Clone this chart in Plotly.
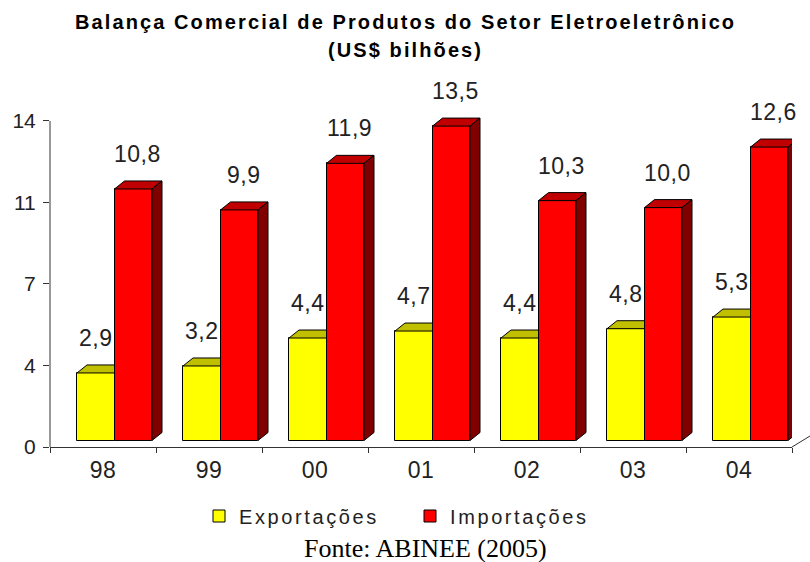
import plotly.graph_objects as go

# ---------------- data ----------------
years = ["98", "99", "00", "01", "02", "03", "04"]
exportacoes = [2.9, 3.2, 4.4, 4.7, 4.4, 4.8, 5.3]
importacoes = [10.8, 9.9, 11.9, 13.5, 10.3, 10.0, 12.6]
series_names = ["Exportações", "Importações"]
ytick_vals = [0, 3.5, 7, 10.5, 14]
ytick_text = ["0", "4", "7", "11", "14"]
title_lines = ["Balança Comercial de Produtos do Setor Eletroeletrônico", "(US$ bilhões)"]
source_text = "Fonte: ABINEE (2005)"

# ---------------- layout geometry ----------------
W, H = 810, 562
ML, MR, MT, MB = 50, 18, 110, 115
plot_w = W - ML - MR
plot_h = H - MT - MB
ncat = len(years)
x_unit = plot_w / ncat          # px per category
y_unit = 23.29                  # px per value unit
ymax = plot_h / y_unit

dx = 10 / x_unit                # 3D depth (x)
dy = 8 / y_unit                 # 3D depth (y)
b0 = 6.5 / y_unit               # bars sit slightly behind the floor front edge
bw = 37.5 / x_unit              # bar width
left_off = 27 / x_unit          # offset of first bar from category start

front_cols = ["#FFFF00", "#FF0000"]
top_cols = ["#C0C000", "#C00000"]
side_cols = ["#808000", "#800000"]
TXT = "#222222"
FONT = "Liberation Sans, Arial, sans-serif"


def ls(text, px):
    return f'<span style="letter-spacing:{px}px">{text}</span>'


def py_to_paper(p):
    return (H - MB - p) / plot_h


def px_to_paper(p):
    return (p - ML) / plot_w


fig = go.Figure()

series = [exportacoes, importacoes]
lefts = []
for s in range(2):
    xl = [i - 0.5 + left_off + s * bw for i in range(ncat)]
    lefts.append(xl)

# front faces
for s, vals in enumerate(series):
    fig.add_trace(go.Bar(
        x=[xl + bw / 2 for xl in lefts[s]], y=vals, base=[b0] * ncat, width=bw,
        name=ls(series_names[s], 2.6),
        marker=dict(color=front_cols[s], line=dict(color="black", width=1)),
        hoverinfo="skip",
    ))

# top faces and sides
for s, vals in enumerate(series):
    tx, ty, sx, sy = [], [], [], []
    for i, v in enumerate(vals):
        xl = lefts[s][i]
        xr = xl + bw
        top = b0 + v
        if s == 0:
            # right part hidden behind the neighbouring (taller) bar
            tx += [xl, xl + dx, xr, xr, xl, None]
        else:
            tx += [xl, xl + dx, xr + dx, xr, xl, None]
        ty += [top, top + dy, top + dy, top, top, None]
        if s == 1:
            sx += [xr, xr + dx, xr + dx, xr, xr, None]
            sy += [b0, b0 + dy, top + dy, top, b0, None]
    fig.add_trace(go.Scatter(x=tx, y=ty, mode="lines", fill="toself", fillcolor=top_cols[s],
                             line=dict(color="black", width=1), showlegend=False, hoverinfo="skip"))
    if sx:
        fig.add_trace(go.Scatter(x=sx, y=sy, mode="lines", fill="toself", fillcolor=side_cols[s],
                                 line=dict(color="black", width=1), showlegend=False, hoverinfo="skip"))

# value labels
annotations = []
for s, vals in enumerate(series):
    for i, v in enumerate(vals):
        xc = lefts[s][i] + bw / 2 + (0.04 if s == 1 else 0)
        annotations.append(dict(
            x=xc, y=b0 + v, xref="x", yref="y", yanchor="bottom", yshift=20,
            text=ls(f"{v:.1f}".replace(".", ","), 0.5), showarrow=False,
            font=dict(family=FONT, size=23, color=TXT)))

# title
annotations.append(dict(x=px_to_paper(405), y=py_to_paper(22), xref="paper", yref="paper",
                        text=ls("<b>" + title_lines[0] + "</b>", 2.1), showarrow=False,
                        yanchor="middle", font=dict(family=FONT, size=20, color="#000")))
annotations.append(dict(x=px_to_paper(405), y=py_to_paper(50), xref="paper", yref="paper",
                        text=ls("<b>" + title_lines[1] + "</b>", 2.1), showarrow=False,
                        yanchor="middle", font=dict(family=FONT, size=20, color="#000")))
# source
annotations.append(dict(x=px_to_paper(426), y=py_to_paper(548), xref="paper", yref="paper",
                        text=source_text, showarrow=False, yanchor="middle",
                        font=dict(family="Liberation Serif, Times New Roman, serif", size=26, color="#000")))

shapes = [
    # vertical axis line up to the top tick
    dict(type="line", xref="paper", yref="y", x0=0, x1=0, y0=0, y1=ytick_vals[-1],
         line=dict(color="#333", width=1)),
    # floor edge at the right end
    dict(type="line", xref="paper", yref="paper", x0=1, x1=1 + 18 / plot_w, y0=0, y1=11 / plot_h,
         line=dict(color="#333", width=1)),
]

fig.update_layout(
    width=W, height=H, margin=dict(l=ML, r=MR, t=MT, b=MB),
    paper_bgcolor="white", plot_bgcolor="white",
    barmode="overlay", bargap=0,
    showlegend=True,
    legend=dict(orientation="h", x=px_to_paper(199), xanchor="left", y=py_to_paper(516), yanchor="middle",
                font=dict(family=FONT, size=20, color=TXT), entrywidth=166, entrywidthmode="pixels",
                bgcolor="rgba(0,0,0,0)", itemclick=False),
    annotations=annotations, shapes=shapes,
    xaxis=dict(range=[-0.5, ncat - 0.5], tickmode="array", tickvals=list(range(ncat)),
               ticktext=[ls(y, 0.5) for y in years], ticks="", showgrid=False, zeroline=False,
               showline=True, linecolor="#333", linewidth=1, ticklabelstandoff=2,
               tickfont=dict(family=FONT, size=23, color=TXT), fixedrange=True,
               minor=dict(tickmode="array", tickvals=[i - 0.5 for i in range(ncat + 1)],
                          ticks="outside", ticklen=5, tickcolor="#333")),
    yaxis=dict(range=[0, ymax], tickmode="array", tickvals=ytick_vals, ticktext=ytick_text,
               ticks="outside", ticklen=6, tickcolor="#333", showgrid=False, zeroline=False,
               showline=False, ticklabelstandoff=3,
               tickfont=dict(family=FONT, size=21, color=TXT), fixedrange=True),
)

fig.write_html("out.html")
